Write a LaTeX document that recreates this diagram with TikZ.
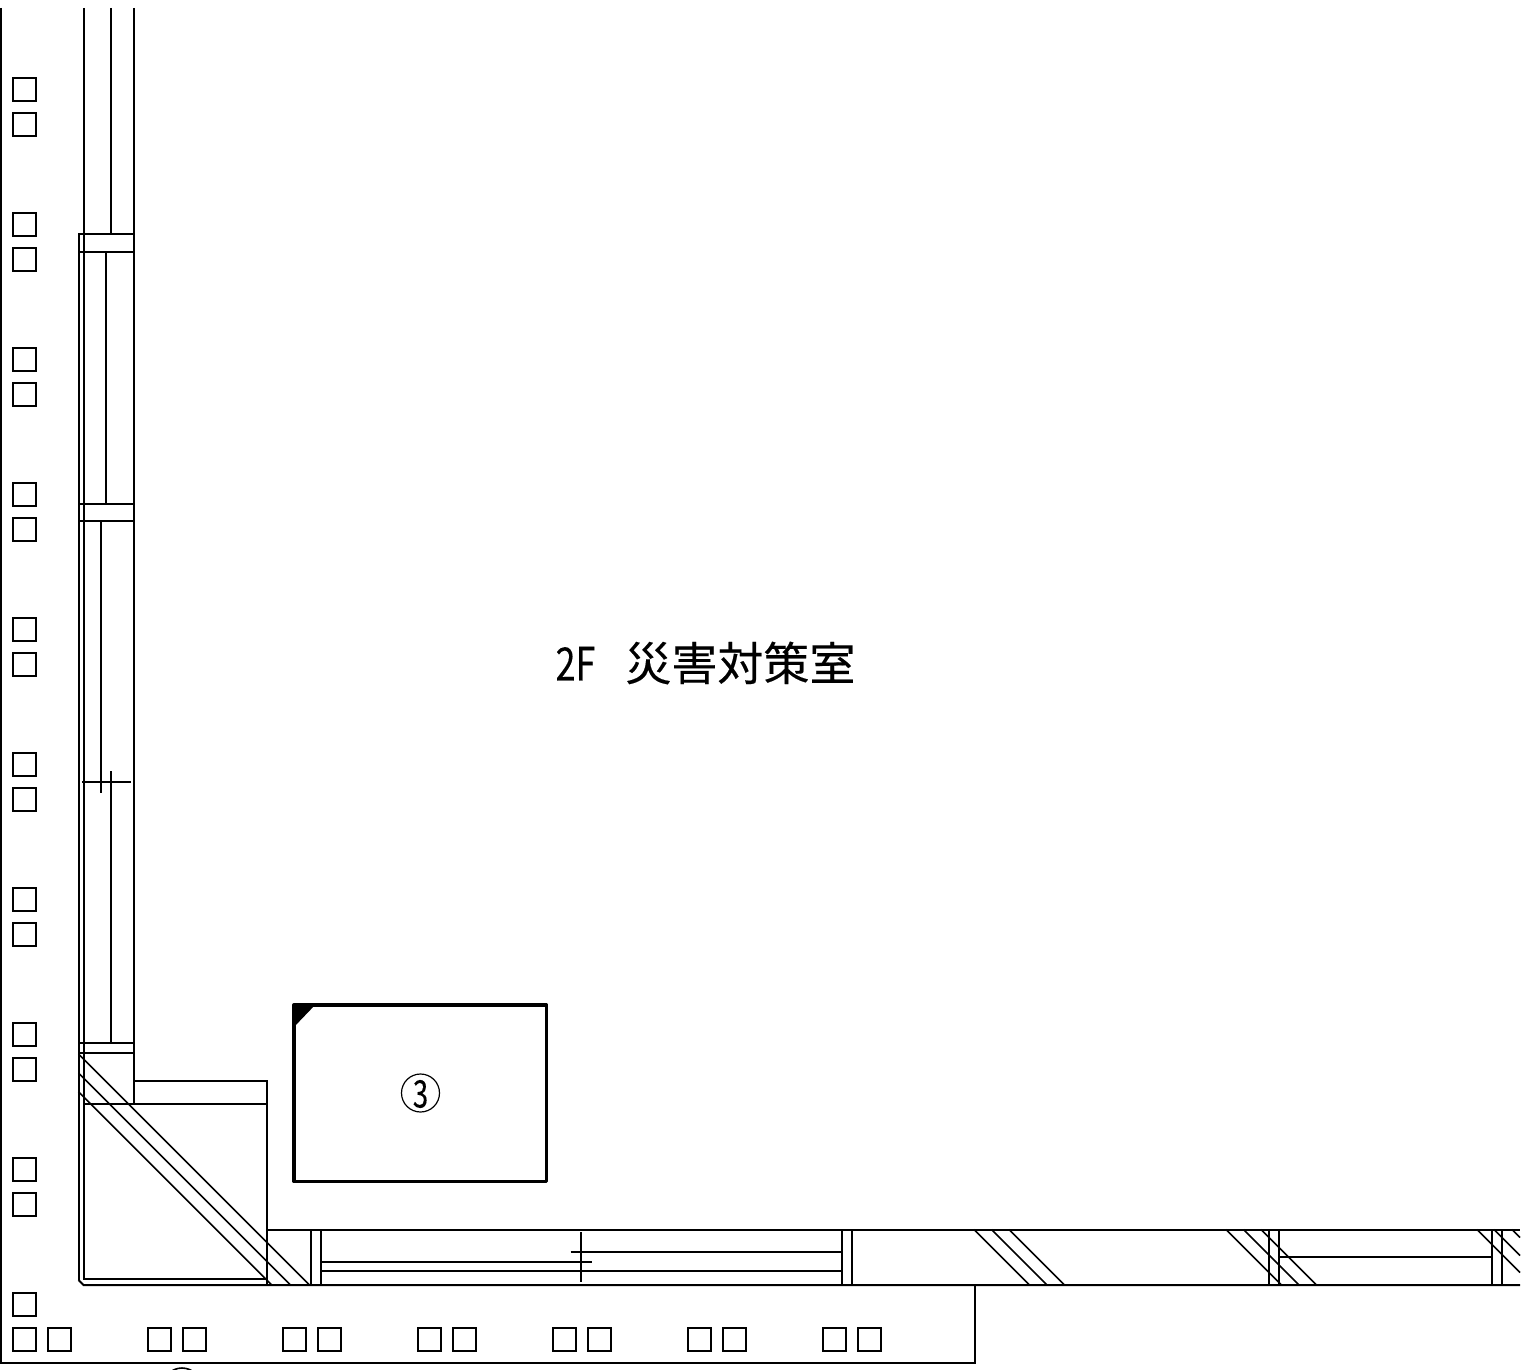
\documentclass[tikz,border=0pt]{standalone}
\usepackage{fontspec}
\usepackage{graphicx}
\newfontfamily\cjkfont[FakeBold=0.25]{Noto Sans CJK JP}
\tikzset{
  wall/.style={line width=2pt,black},
  hatch/.style={line width=1.7pt,black},
  sq/.style={line width=2.1pt,black},
  heavy/.style={line width=3.4pt,black,line join=round,line cap=round},
  roomlabel/.style={inner sep=0pt,anchor=center,font=\cjkfont\fontsize{46}{50}\selectfont},
  numlabel/.style={inner sep=0pt,anchor=center,font=\cjkfont\fontsize{38}{40}\selectfont}
}
\begin{document}
\begin{tikzpicture}[x=1pt,y=-1pt]
\useasboundingbox (0,0) rectangle (1527,1370);
\clip (0,0) rectangle (1527,1370);
% small squares, left column
\foreach \y in {78,113,213,248,348,383,483,518,618,653,753,788,888,923,1023,1058,1158,1193,1293,1328}
  \draw[sq] (13,\y) rectangle +(23,23);
% small squares, bottom row
\foreach \x in {48,148,183,283,318,418,453,553,588,688,723,823,858}
  \draw[sq] (\x,1328) rectangle +(23,23);
% outer frame
\draw[wall] (0.7,8) -- (0.7,1362.5) -- (975,1362.5) -- (975,1285);
% fragment of a circle cut by the lower edge
\draw[line width=1.6pt] (182,1387) circle (19);
% vertical wall
\draw[wall] (83.5,8) -- (83.5,1279) -- (266.5,1279);
\draw[wall] (110.5,8) -- (110.5,233.5);
\draw[wall] (133.5,8) -- (133.5,1103.5);
\draw[wall] (78.5,1280) -- (78.5,233.5) -- (133.5,233.5);
\draw[wall] (78.5,1280) -- (83.5,1285) -- (1520,1285);
\foreach \y in {251.5,503.5,520.5,1043,1053}
  \draw[wall] (78.5,\y) -- (133.5,\y);
\draw[wall] (105.5,251.5) -- (105.5,503.5);
\draw[wall] (101,520.5) -- (101,792.5);
\draw[wall] (110.5,771) -- (110.5,1043);
\draw[wall] (82,782) -- (131,782);
% corner
\draw[wall] (133.5,1081) -- (266.5,1081) -- (266.5,1285);
\draw[wall] (83.5,1103.5) -- (266.5,1103.5);
\draw[hatch] (78.5,1054) -- (309.5,1285);
\draw[hatch] (78.5,1073) -- (290.5,1285);
\draw[hatch] (78.5,1091.7) -- (271.8,1285);
% horizontal wall
\draw[wall] (266.5,1229.5) -- (1520,1229.5);
\foreach \x in {310.5,320.5,842,852,1268.5,1278.5,1492,1502}
  \draw[wall] (\x,1229.5) -- (\x,1285);
\draw[wall] (320.5,1262) -- (592,1262);
\draw[wall] (320.5,1271) -- (842,1271);
\draw[wall] (570.5,1252) -- (842,1252);
\draw[wall] (581,1232) -- (581,1281.5);
\draw[wall] (1278.5,1257) -- (1492,1257);
% diagonal hatching on the horizontal wall
\foreach \x in {974,991.5,1009,1226,1243.5,1261}
  \draw[hatch] (\x,1229.5) -- ++(55.5,55.5);
\draw[hatch] (1477,1229.5) -- (1520,1272.5);
\draw[hatch] (1494,1229.5) -- (1520,1255.5);
\draw[hatch] (1512,1229.5) -- (1520,1237.5);
% unit 3
\draw[heavy] (294,1005) rectangle (546.5,1181.5);
\fill (293,1004) -- (316,1004) -- (294,1027) -- cycle;
\draw[line width=1.2pt] (420.5,1093) circle (19);
\node[numlabel] (unitnum) at (420.5,1094) {\scalebox{.72}[1]{3}};
% room label
\node[roomlabel] (room) at (705.5,663) {\scalebox{.78}[1]{2F}\hspace{30pt}災害対策室};
\end{tikzpicture}
\end{document}
